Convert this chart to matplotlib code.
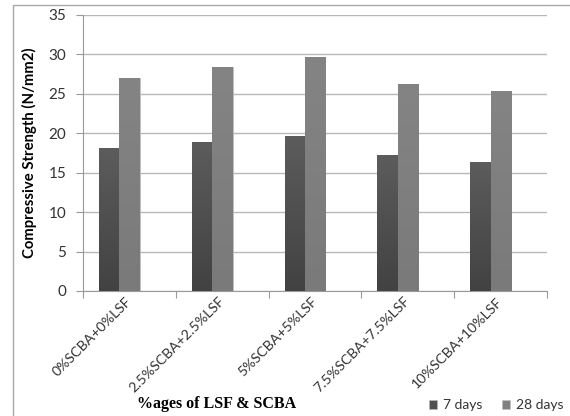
import numpy as np
import matplotlib
matplotlib.use("Agg")
import matplotlib.pyplot as plt
from matplotlib.patches import Rectangle

# データ
categories = ["0%SCBA+0%LSF", "2.5%SCBA+2.5%LSF", "5%SCBA+5%LSF",
              "7.5%SCBA+7.5%LSF", "10%SCBA+10%LSF"]
days_7 = [18.1, 18.9, 19.7, 17.2, 16.3]
days_28 = [27.0, 28.45, 29.7, 26.3, 25.3]
series_names = ["7 days", "28 days"]
y_ticks = [0, 5, 10, 15, 20, 25, 30, 35]

plt.rcParams['font.family'] = ['Lato', 'DejaVu Sans']

fig = plt.figure(figsize=(5.7, 4.16), dpi=100)
ax = fig.add_axes([83 / 570, 1 - 291 / 416, (547 - 83) / 570, (291 - 15) / 416])

# 外枠
fig.patches.append(Rectangle((13 / 570, -0.1), 1.2, 1 - 5 / 416 + 0.1,
                             transform=fig.transFigure, fill=False,
                             edgecolor='#a8a8a8', linewidth=1.0))

x = np.arange(len(categories))
w = 0.22
bars1 = ax.bar(x - 0.328, days_7, w, align='edge', color='#505050',
               edgecolor='#b8b8b8', linewidth=0.5, zorder=3)
bars2 = ax.bar(x - 0.108, days_28, w, align='edge', color='#808080',
               edgecolor='#c0c0c0', linewidth=0.5, zorder=3)

# グラデーション
grad = np.linspace(0, 1, 100).reshape(-1, 1)
for bars, top, bot in [(bars1, '#5c5c5c', '#424242'), (bars2, '#848484', '#7a7a7a')]:
    cmap = matplotlib.colors.LinearSegmentedColormap.from_list('g', [bot, top])
    for b in bars:
        bx, by = b.get_x(), b.get_y()
        im = ax.imshow(grad, extent=[bx, bx + b.get_width(), by, by + b.get_height()],
                       origin='lower', aspect='auto', cmap=cmap, zorder=3.5)
        im.set_clip_path(b)

ax.set_xlim(-0.5, 4.5)
ax.set_ylim(0, 35)
ax.set_yticks(y_ticks)
ax.set_yticklabels([str(v) for v in y_ticks], fontsize=11, color='#333333')
ax.set_xticks(np.arange(-0.5, 5.0, 1.0))
ax.set_xticklabels([])
ax.set_xticks(x, minor=True)
ax.set_xticklabels(categories, minor=True, rotation=45, ha='right', va='center',
                   rotation_mode='anchor', fontsize=10.2, color='#333333')
ax.tick_params(axis='x', which='minor', length=0, pad=6)
ax.tick_params(axis='x', which='major', length=5, color='#999999', direction='out')
ax.tick_params(axis='y', length=5, color='#999999', direction='out', pad=7)

ax.grid(axis='y', color='#b8b8b8', linewidth=1.0, zorder=0)
for s in ['top', 'right']:
    ax.spines[s].set_visible(False)
ax.spines['left'].set_color('#999999')
ax.spines['bottom'].set_color('#999999')

ax.set_ylabel('Compressive Strength (N/mm2)', fontsize=10.7, fontweight='bold')
ax.yaxis.set_label_coords(-46 / 464, 0.5)

fig.text(217 / 570, 1 - 404 / 416, '%ages of LSF & SCBA', fontsize=11.5, fontweight='bold',
         family='Liberation Serif', ha='center', va='center')

# 凡例
leg = fig.legend([bars1, bars2], series_names, loc='center left',
                 bbox_to_anchor=(429 / 570, 1 - 405 / 416), ncol=2, frameon=False,
                 fontsize=10, handlelength=0.6, handleheight=0.6, handletextpad=0.4,
                 columnspacing=1.4, borderpad=0, borderaxespad=0)
for t in leg.get_texts():
    t.set_color('#333333')

fig.savefig('out.png', dpi=100)
